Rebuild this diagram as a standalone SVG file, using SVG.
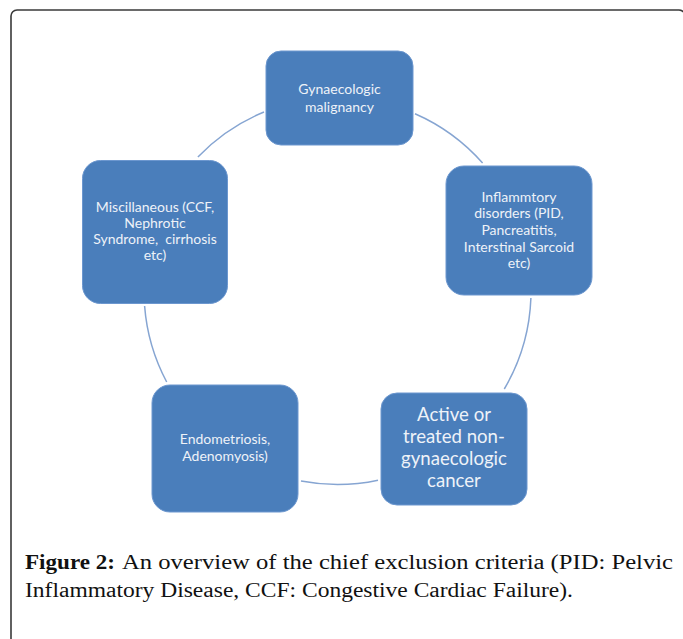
<svg xmlns="http://www.w3.org/2000/svg" width="683" height="639" viewBox="0 0 683 639">
<style>
.frame{fill:none;stroke:#3a3a3a;stroke-width:1.6}
.node rect{fill:#4a7ebb;stroke:#6c97cf;stroke-width:1}
.node text{font-family:Lato,"Open Sans","Liberation Sans",sans-serif;fill:#eef2f8;text-anchor:middle}
.s{font-size:14px}
.l{font-size:18.6px}
.arc{fill:none;stroke:#86a5d2;stroke-width:1.5}
.cap{font-family:"Liberation Serif","DejaVu Serif",serif;font-size:20px;fill:#111}
.b{font-weight:bold}
</style>
<rect class="frame" x="11" y="10" width="674" height="700" rx="6"/>
<g id="connectors">
<path class="arc" d="M415,113.7 A193.5,193.5 0 0 1 482.6,163"/>
<path class="arc" d="M530.9,298 A193.5,193.5 0 0 1 504.3,389"/>
<path class="arc" d="M378,480.2 A193.5,193.5 0 0 1 301,481"/>
<path class="arc" d="M166.7,382 A193.5,193.5 0 0 1 144.6,306"/>
<path class="arc" d="M197.9,157 A193.5,193.5 0 0 1 264,112"/>
</g>
<g id="node-gynaecologic" class="node">
<rect x="266" y="51" width="147" height="94" rx="15"/>
<text class="s" x="339.5" y="93.5">Gynaecologic</text>
<text class="s" x="339.5" y="111.5">malignancy</text>
</g>
<g id="node-inflammatory" class="node">
<rect x="446" y="166" width="146" height="129" rx="18"/>
<text class="s" x="519" y="201.5">Inflammtory</text>
<text class="s" x="519" y="218.2">disorders (PID,</text>
<text class="s" x="519" y="234.9">Pancreatitis,</text>
<text class="s" x="519" y="251.6">Interstinal Sarcoid</text>
<text class="s" x="519" y="268.3">etc)</text>
</g>
<g id="node-nongyn-cancer" class="node">
<rect x="381" y="393" width="146" height="112" rx="16"/>
<text class="l" x="454" y="420.5">Active or</text>
<text class="l" x="454" y="442.7">treated non-</text>
<text class="l" x="454" y="464.9">gynaecologic</text>
<text class="l" x="454" y="487.1">cancer</text>
</g>
<g id="node-endometriosis" class="node">
<rect x="152" y="385" width="146" height="127" rx="18"/>
<text class="s" x="225" y="444">Endometriosis,</text>
<text class="s" x="225" y="460.7">Adenomyosis)</text>
</g>
<g id="node-miscellaneous" class="node">
<rect x="82.5" y="160.5" width="145" height="143" rx="18"/>
<text class="s" x="155" y="211.5">Miscillaneous (CCF,</text>
<text class="s" x="155" y="227.8">Nephrotic</text>
<text class="s" x="155" y="244.1" xml:space="preserve">Syndrome,  cirrhosis</text>
<text class="s" x="155" y="260.4">etc)</text>
</g>
<text class="cap b" x="25" y="569" textLength="90" lengthAdjust="spacingAndGlyphs">Figure 2:</text>
<text class="cap" x="122" y="569" textLength="551" lengthAdjust="spacingAndGlyphs">An overview of the chief exclusion criteria (PID: Pelvic</text>
<text class="cap" x="25" y="597" textLength="548" lengthAdjust="spacingAndGlyphs">Inflammatory Disease, CCF: Congestive Cardiac Failure).</text>
</svg>
